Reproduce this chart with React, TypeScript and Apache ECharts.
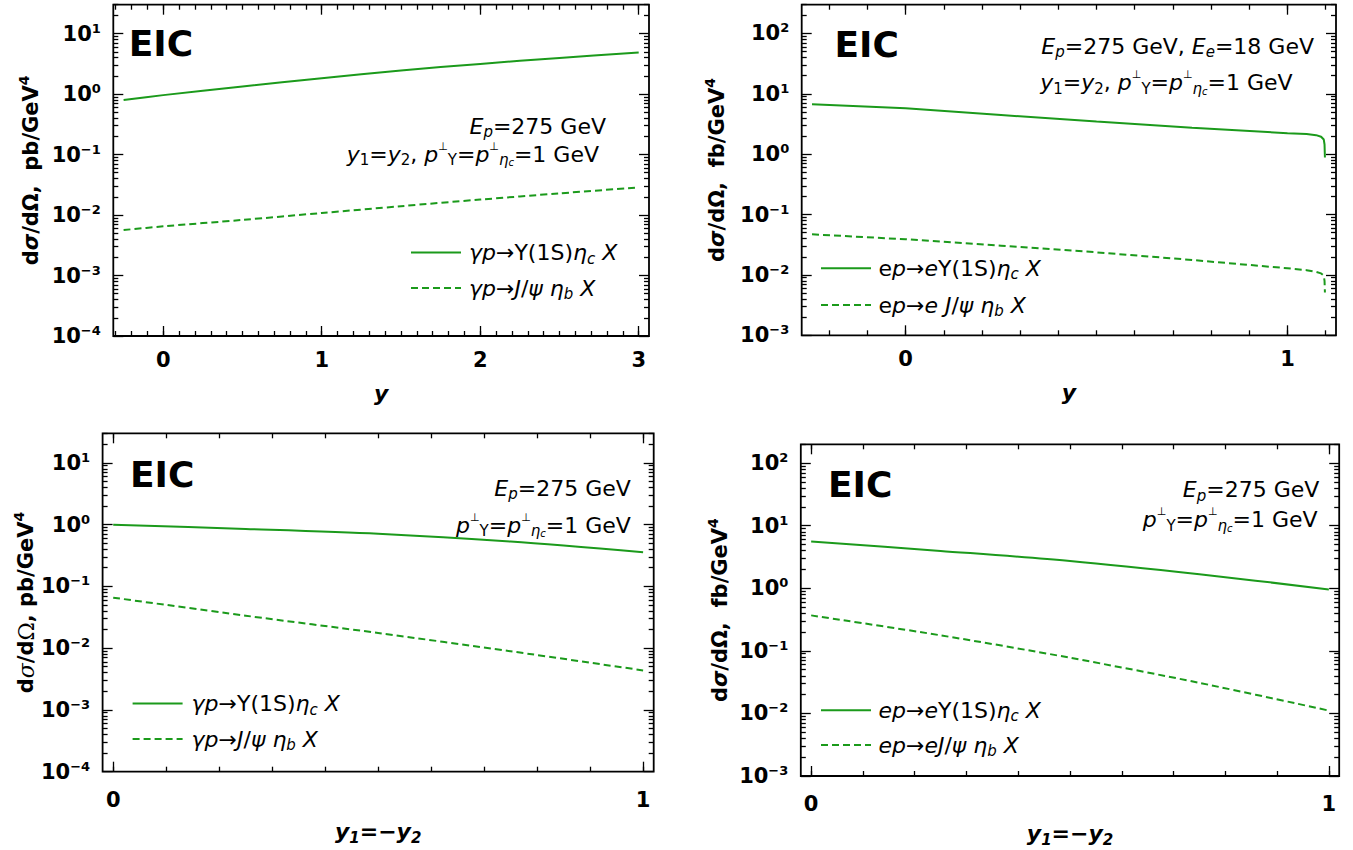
import React, { useEffect, useRef } from 'react';
import * as echarts from 'echarts';

const FONT = 'DejaVu Sans';
const GREEN = '#1b9a1b';

// ---------------- data ----------------
// Panel 1: photoproduction, y1 = y2, vs y
const p1Y = [-0.25, 0, 0.5, 1, 1.5, 2, 2.5, 3];
const p1Upsilon = [0.8, 0.96, 1.33, 1.83, 2.45, 3.15, 3.95, 4.85];
const p1Jpsi = [0.00565, 0.0065, 0.0083, 0.0108, 0.014, 0.018, 0.0228, 0.0286];

// Panel 2: electroproduction, y1 = y2, vs y
const p2Y = [-0.245, 0, 0.25, 0.5, 0.75, 1, 1.05, 1.075, 1.088, 1.095, 1.097, 1.098];
const p2Upsilon = [6.75, 5.8, 4.47, 3.47, 2.75, 2.23, 2.17, 2.07, 1.95, 1.75, 1.45, 0.88];
const p2Jpsi = [0.0471, 0.039, 0.0305, 0.0237, 0.0177, 0.0129, 0.012, 0.0112, 0.0106, 0.0097, 0.008, 0.0051];

// Panel 3: photoproduction, vs y1 = -y2
const p3Y = [0, 0.25, 0.5, 0.75, 1];
const p3Upsilon = [0.99, 0.85, 0.71, 0.53, 0.356];
const p3Jpsi = [0.0656, 0.0335, 0.0176, 0.0089, 0.00436];

// Panel 4: electroproduction, vs y1 = -y2
const p4Y = [0, 0.25, 0.5, 0.75, 1];
const p4Upsilon = [5.6, 3.96, 2.74, 1.68, 0.96];
const p4Jpsi = [0.369, 0.177, 0.0776, 0.0308, 0.0111];

// tick labels
const xMajor1 = [0, 1, 2, 3];
const xMajor2 = [0, 1];
const xMajor3 = [0, 1];
const xMajor4 = [0, 1];
const decades1 = [-4, -3, -2, -1, 0, 1];
const decades2 = [-3, -2, -1, 0, 1, 2];
const decades3 = [-4, -3, -2, -1, 0, 1];
const decades4 = [-3, -2, -1, 0, 1, 2];

// ---------------- helpers ----------------
const zip = (xs: number[], ys: number[]) => xs.map((x, i) => [x, ys[i]]);
const minorX = (a: number, b: number) => {
  const out: number[] = [];
  for (let k = Math.ceil(a * 10 - 1e-9); k <= Math.floor(b * 10 + 1e-9); k++) out.push(k / 10);
  return out;
};
const minorLog = (decs: number[]) => {
  const out: number[] = [];
  decs.forEach((n) => {
    for (let k = 2; k <= 9; k++) out.push(k * Math.pow(10, n));
  });
  return out;
};
const majorLog = (decs: number[]) => decs.map((n) => Math.pow(10, n) * (1 + 1e-9));

const tok = (size: number, extra: any = {}) => ({
  fontFamily: FONT,
  fontSize: size,
  color: '#000',
  fill: '#000',
  ...extra,
});

const RICH: any = {
  r: tok(22, { lineHeight: 27 }),
  i: tok(22, { lineHeight: 27, fontStyle: 'italic' }),
  sb: tok(15, { lineHeight: 14, verticalAlign: 'bottom' }),
  isb: tok(15, { lineHeight: 14, verticalAlign: 'bottom', fontStyle: 'italic' }),
  ssb: tok(10, { lineHeight: 7, verticalAlign: 'bottom', fontStyle: 'italic' }),
  sp: tok(11, { lineHeight: 12, verticalAlign: 'top' }),
};

const RICH_T: any = {
  t: tok(21, { lineHeight: 28, fontWeight: 'bold' }),
  ti: tok(21, { lineHeight: 28, fontWeight: 'bold', fontStyle: 'italic' }),
  ts: tok(22, { lineHeight: 28, fontFamily: 'DejaVu Serif', fontStyle: 'italic' }),
  tsu: tok(22, { lineHeight: 28, fontFamily: 'DejaVu Serif' }),
  tsup: tok(14, { lineHeight: 14, fontWeight: 'bold', verticalAlign: 'top' }),
  bi: tok(22, { lineHeight: 28, fontWeight: 'bold', fontStyle: 'italic' }),
  b: tok(22, { lineHeight: 28, fontWeight: 'bold' }),
  bisb: tok(15, { lineHeight: 15, fontWeight: 'bold', fontStyle: 'italic', verticalAlign: 'bottom' }),
};

const RICH_Y: any = {
  m: tok(21, { lineHeight: 24, fontWeight: 'bold' }),
  e: tok(13, { lineHeight: 18, fontWeight: 'bold', verticalAlign: 'top' }),
};

const yFormatter = (v: number) => {
  const e = Math.round(Math.log10(v));
  return `{m|10}{e|${e < 0 ? '\u2212' + -e : e}}`;
};

const PT = '{i|p}{sp|\u22a5}{sb|\u03a5}{r|=}{i|p}{sp|\u22a5}{isb|\u03b7}{ssb|c}{r|=1 GeV}';
const YEQ = '{i|y}{sb|1}{r|=}{i|y}{sb|2}{r|, }';

const LEG: Record<string, string> = {
  p1u: '{i|\u03b3p}{r|\u2192\u03a5(1S)}{i|\u03b7}{isb|c}{i| X}',
  p1j: '{i|\u03b3p}{r|\u2192}{i|J}{r|/}{i|\u03c8 \u03b7}{isb|b}{i| X}',
  p2u: '{r|e}{i|p}{r|\u2192}{i|e}{r|\u03a5(1S)}{i|\u03b7}{isb|c}{i| X}',
  p2j: '{r|e}{i|p}{r|\u2192}{i|e J}{r|/}{i|\u03c8 \u03b7}{isb|b}{i| X}',
  p3u: '{i|\u03b3p}{r|\u2192\u03a5(1S)}{i|\u03b7}{isb|c}{i| X}',
  p3j: '{i|\u03b3p}{r|\u2192}{i|J}{r|/}{i|\u03c8 \u03b7}{isb|b}{i| X}',
  p4u: '{i|ep}{r|\u2192}{i|e}{r|\u03a5(1S)}{i|\u03b7}{isb|c}{i| X}',
  p4j: '{i|ep}{r|\u2192}{i|eJ}{r|/}{i|\u03c8 \u03b7}{isb|b}{i| X}',
};

const panels = [
  {
    grid: { left: 113.3, top: 4.7, width: 535.7, height: 331.3 },
    xMin: -0.315, xMax: 3.065, xMajor: xMajor1,
    yMin: 1e-4, yMax: 30, decades: decades1,
    xName: '{bi|y}', xNameGap: 43, xLabelMargin: 12,
    yName: '{t|d}{ti|\u03c3}{t|/d\u03a9,  pb/GeV}{tsup|4}', yNameGap: 68,
    series: [
      { name: 'p1u', x: p1Y, y: p1Upsilon, dashed: false },
      { name: 'p1j', x: p1Y, y: p1Jpsi, dashed: true },
    ],
    legend: { left: 410, top: 241.5, itemGap: 11, pad: 3 },
    eic: [128.7, 43.5],
    notes: [
      { text: '{i|E}{isb|p}{r|=275 GeV}', x: 606, y: 126 },
      { text: YEQ + PT, x: 599, y: 154 },
    ],
  },
  {
    grid: { left: 801.7, top: 4.7, width: 534.3, height: 330.6 },
    xMin: -0.272, xMax: 1.127, xMajor: xMajor2,
    yMin: 1e-3, yMax: 300, decades: decades2,
    xName: '{bi|y}', xNameGap: 43, xLabelMargin: 12,
    yName: '{t|d}{ti|\u03c3}{t|/d\u03a9,  fb/GeV}{tsup|4}', yNameGap: 71,
    series: [
      { name: 'p2u', x: p2Y, y: p2Upsilon, dashed: false },
      { name: 'p2j', x: p2Y, y: p2Jpsi, dashed: true },
    ],
    legend: { left: 820, top: 257.2, itemGap: 12.3, pad: 2.5 },
    eic: [834.5, 44.5],
    notes: [
      { text: '{i|E}{isb|p}{r|=275 GeV, }{i|E}{isb|e}{r|=18 GeV}', x: 1314, y: 46 },
      { text: YEQ + PT, x: 1292.6, y: 82.5 },
    ],
  },
  {
    grid: { left: 102.6, top: 433.3, width: 551.1, height: 338.4 },
    xMin: -0.02, xMax: 1.02, xMajor: xMajor3,
    yMin: 1e-4, yMax: 30, decades: decades3,
    xName: '{bi|y}{bisb|1}{b|=\u2212}{bi|y}{bisb|2}', xNameGap: 46, xLabelMargin: 16,
    yName: '{t|d}{ts|\u03c3}{t|/d}{tsu|\u03a9}{t|, pb/GeV}{tsup|4}', yNameGap: 61,
    series: [
      { name: 'p3u', x: p3Y, y: p3Upsilon, dashed: false },
      { name: 'p3j', x: p3Y, y: p3Jpsi, dashed: true },
    ],
    legend: { left: 131.6, top: 692.5, itemGap: 11, pad: 4 },
    eic: [130, 474.5],
    notes: [
      { text: '{i|E}{isb|p}{r|=275 GeV}', x: 630.8, y: 488 },
      { text: PT, x: 630.8, y: 525 },
    ],
  },
  {
    grid: { left: 800.8, top: 444.3, width: 538.4, height: 331.7 },
    xMin: -0.02, xMax: 1.02, xMajor: xMajor4,
    yMin: 1e-3, yMax: 200, decades: decades4,
    xName: '{bi|y}{bisb|1}{b|=\u2212}{bi|y}{bisb|2}', xNameGap: 43, xLabelMargin: 16,
    yName: '{t|d}{ti|\u03c3}{t|/d\u03a9,  fb/GeV}{tsup|4}', yNameGap: 67,
    series: [
      { name: 'p4u', x: p4Y, y: p4Upsilon, dashed: false },
      { name: 'p4j', x: p4Y, y: p4Jpsi, dashed: true },
    ],
    legend: { left: 820, top: 699.2, itemGap: 10.3, pad: 2.5 },
    eic: [828, 484.5],
    notes: [
      { text: '{i|E}{isb|p}{r|=275 GeV}', x: 1319.3, y: 489.5 },
      { text: PT, x: 1317.6, y: 519.5 },
    ],
  },
];

const TICK_STYLE = { color: '#000', width: 1.3 };

function buildOption() {
  const xAxis: any[] = [];
  const yAxis: any[] = [];
  const series: any[] = [];
  const legend: any[] = [];
  const graphic: any[] = [];

  panels.forEach((p, gi) => {
    const xMinor = minorX(p.xMin, p.xMax);
    const yMajor = majorLog(p.decades);
    const yMinor = minorLog(p.decades);
    const xBase = {
      type: 'value',
      gridIndex: gi,
      min: p.xMin,
      max: p.xMax,
      axisLine: { show: false, onZero: false },
      splitLine: { show: false },
      axisLabel: { show: false },
      axisPointer: { show: false },
    };
    const majTick = (vals: number[]) => ({ show: true, inside: true, length: 10, lineStyle: TICK_STYLE, customValues: vals });
    const minTick = (vals: number[]) => ({ show: true, inside: true, length: 5, lineStyle: TICK_STYLE, customValues: vals });
    xAxis.push(
      {
        ...xBase,
        position: 'bottom',
        axisTick: majTick(p.xMajor),
        axisLabel: {
          show: true,
          customValues: p.xMajor,
          margin: p.xLabelMargin,
          fontFamily: FONT,
          fontWeight: 'bold',
          fontSize: 21,
          lineHeight: 24,
          color: '#000',
        },
        name: p.xName,
        nameLocation: 'middle',
        nameGap: p.xNameGap,
        nameTextStyle: { rich: RICH_T },
      },
      { ...xBase, position: 'bottom', axisTick: minTick(xMinor) },
      { ...xBase, position: 'top', axisTick: majTick(p.xMajor) },
      { ...xBase, position: 'top', axisTick: minTick(xMinor) },
    );
    const yBase = {
      type: 'log',
      logBase: 10,
      gridIndex: gi,
      min: p.yMin,
      max: p.yMax,
      axisLine: { show: false, onZero: false },
      splitLine: { show: false },
      minorSplitLine: { show: false },
      axisLabel: { show: false },
      axisPointer: { show: false },
    };
    yAxis.push(
      {
        ...yBase,
        position: 'left',
        axisTick: majTick(yMajor),
        axisLabel: {
          show: true,
          customValues: yMajor,
          margin: 12.5,
          formatter: yFormatter,
          rich: RICH_Y,
        },
        name: p.yName,
        nameLocation: 'middle',
        nameRotate: 90,
        nameGap: p.yNameGap,
        nameTextStyle: { rich: RICH_T },
      },
      { ...yBase, position: 'left', axisTick: minTick(yMinor) },
      { ...yBase, position: 'right', axisTick: majTick(yMajor) },
      { ...yBase, position: 'right', axisTick: minTick(yMinor) },
    );

    p.series.forEach((s) => {
      series.push({
        type: 'line',
        name: s.name,
        xAxisIndex: gi * 4,
        yAxisIndex: gi * 4,
        data: zip(s.x, s.y),
        symbol: 'none',
        showSymbol: false,
        smooth: gi === 1 ? false : 0.3,
        lineStyle: { color: GREEN, width: 2, type: s.dashed ? [7, 4] : 'solid' },
        itemStyle: { color: GREEN },
        z: 3,
      });
    });

    legend.push({
      data: p.series.map((s) => s.name),
      orient: 'vertical',
      left: p.legend.left,
      top: p.legend.top,
      itemWidth: 50,
      itemHeight: 14,
      itemGap: p.legend.itemGap,
      padding: 0,
      selectedMode: false,
      itemStyle: { color: 'rgba(0,0,0,0)', borderWidth: 0, opacity: 0 },
      formatter: (name: string) => LEG[name],
      textStyle: { rich: RICH, padding: [0, 0, 0, p.legend.pad] },
    });

    graphic.push({
      type: 'text',
      x: p.eic[0],
      y: p.eic[1],
      style: {
        text: 'EIC',
        fontFamily: FONT,
        fontWeight: 'bold',
        fontSize: 36,
        fill: '#000',
        align: 'left',
        verticalAlign: 'middle',
      },
      z: 10,
    });
    p.notes.forEach((n) => {
      graphic.push({
        type: 'text',
        x: n.x,
        y: n.y,
        style: {
          text: n.text,
          rich: RICH,
          fontFamily: FONT,
          fontSize: 22,
          fill: '#000',
          align: 'right',
          verticalAlign: 'middle',
        },
        z: 10,
      });
    });
  });

  return {
    animation: false,
    backgroundColor: '#ffffff',
    grid: panels.map((p) => ({
      ...p.grid,
      show: true,
      borderColor: '#000',
      borderWidth: 1.8,
      backgroundColor: 'transparent',
      containLabel: false,
      outerBoundsMode: 'none',
    })),
    xAxis,
    yAxis,
    series,
    legend,
    graphic,
  };
}

export default function App() {
  const ref = useRef<HTMLDivElement>(null);
  useEffect(() => {
    const chart = echarts.init(ref.current!, null, { renderer: 'svg' });
    chart.setOption(buildOption() as any);
    return () => chart.dispose();
  }, []);
  return (
    <div
      ref={ref}
      style={{ position: 'fixed', left: 0, top: 0, width: 1353, height: 850, background: '#fff' }}
    />
  );
}
